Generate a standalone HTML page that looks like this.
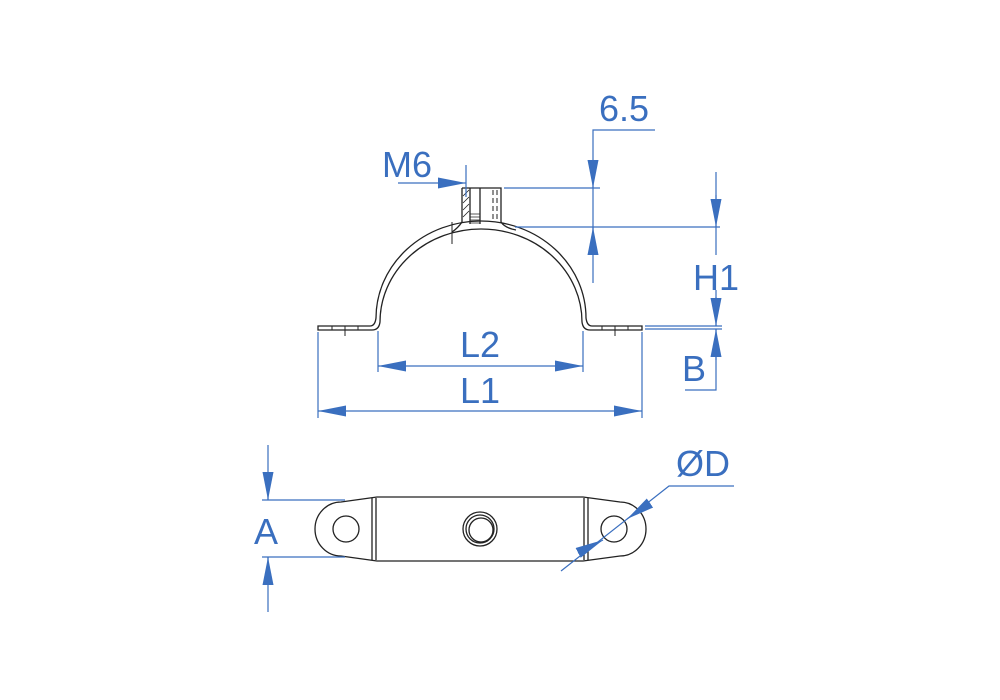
<!DOCTYPE html>
<html><head><meta charset="utf-8"><style>
html,body{margin:0;padding:0;background:#fff;}
svg{display:block;}
text{font-family:"Liberation Sans",sans-serif;fill:#3a6fbf;}
</style></head><body>
<svg width="1000" height="700" viewBox="0 0 1000 700" xmlns="http://www.w3.org/2000/svg">
<defs>
<marker id="ar" viewBox="0 0 10 10" refX="10" refY="5" markerWidth="28" markerHeight="11" preserveAspectRatio="none" markerUnits="userSpaceOnUse" orient="auto-start-reverse"><path d="M0,0 L10,5 L0,10 Z" fill="#3a6fbf"/></marker>
</defs>
<g fill="none" stroke="#222" stroke-width="1.3">
<path d="M318,326 H370 Q375,326 376,318 A105,97 0 0 1 586,318 Q587,326 592,326 H642 V330 H590 Q583,330 582,322 A101,93 0 0 0 380,322 Q379,330 372,330 H318 Z"/>
<path d="M332,326 V330 M345,326 V330 M358,326 V330 M345,330 V336 M602,326 V330 M615,326 V330 M628,326 V330 M615,330 V336" stroke-width="1"/>
<path d="M462,188 H501 V223 M462,188 V222 M480,188 V224 M470,188 V224"/>
<path d="M493,190 V222" stroke-dasharray="5,3" stroke-width="1"/>
<path d="M497,190 V222" stroke-dasharray="5,3" stroke-width="1"/>
<path d="M463,196 L469,190 M463,203 L469,197 M463,210 L469,204 M463,217 L469,211" stroke-width="0.8"/>
<path d="M470,214 H480 M470,217 H480 M470,220 H480 M470,223 H480" stroke-width="0.8"/>
<path d="M462,222 Q458,228 452,232 M501,222 Q505,228 516,230" />
<path d="M452,222 V244" stroke-width="1"/>
<path d="M377,497 H583 L620,502 A26,27 0 0 1 620,556 L583,561 H377 L341,556 A26,27 0 0 1 341,502 Z"/>
<path d="M372,498 V560 M376,498 V560 M584,498 V560 M588,498 V560"/>
<circle cx="346" cy="529" r="13"/>
<circle cx="614" cy="529" r="13"/>
<circle cx="480" cy="529" r="17"/>
<circle cx="480" cy="529" r="14"/>
<circle cx="481" cy="530" r="12"/>
</g>
<g stroke="#3a6fbf" stroke-width="1.2" fill="none">
<path d="M655,130 H593 V283"/>
<path d="M593,160 V188" marker-end="url(#ar)"/>
<path d="M593,255 V227" marker-end="url(#ar)"/>
<path d="M504,188 H600 M515,227 H720"/>
<path d="M398,183 H466" marker-end="url(#ar)"/>
<path d="M466,165 V197"/>
<path d="M716,172 V255 M716,290 V326"/>
<path d="M716,195 V227" marker-end="url(#ar)"/>
<path d="M716,297 V326" marker-end="url(#ar)"/>
<path d="M645,326 H722 M645,329 H722"/>
<path d="M716,360 V329" marker-end="url(#ar)"/>
<path d="M716,329 V390 H685"/>
<path d="M378,331 V372 M583,331 V372 M318,332 V418 M642,332 V418"/>
<path d="M378,366 H583" marker-start="url(#ar)" marker-end="url(#ar)"/>
<path d="M318,411 H642" marker-start="url(#ar)" marker-end="url(#ar)"/>
<path d="M268,445 V500" /><path d="M268,472 V500" marker-end="url(#ar)"/>
<path d="M268,612 V557" /><path d="M268,585 V557" marker-end="url(#ar)"/>
<path d="M262,500 H345 M262,557 H345"/>
<path d="M561,571 L669,486 H734"/>
<path d="M650,503 L627,519" marker-end="url(#ar)"/>
<path d="M578,553 L603,540" marker-end="url(#ar)"/>
</g>
<g font-size="36">
<text x="599" y="121">6.5</text>
<text x="382" y="177">M6</text>
<text x="693" y="290">H1</text>
<text x="682" y="381">B</text>
<text x="480" y="357" text-anchor="middle">L2</text>
<text x="480" y="403" text-anchor="middle">L1</text>
<text x="254" y="544">A</text>
<text x="676" y="476">ØD</text>
</g>
</svg>
</body></html>
